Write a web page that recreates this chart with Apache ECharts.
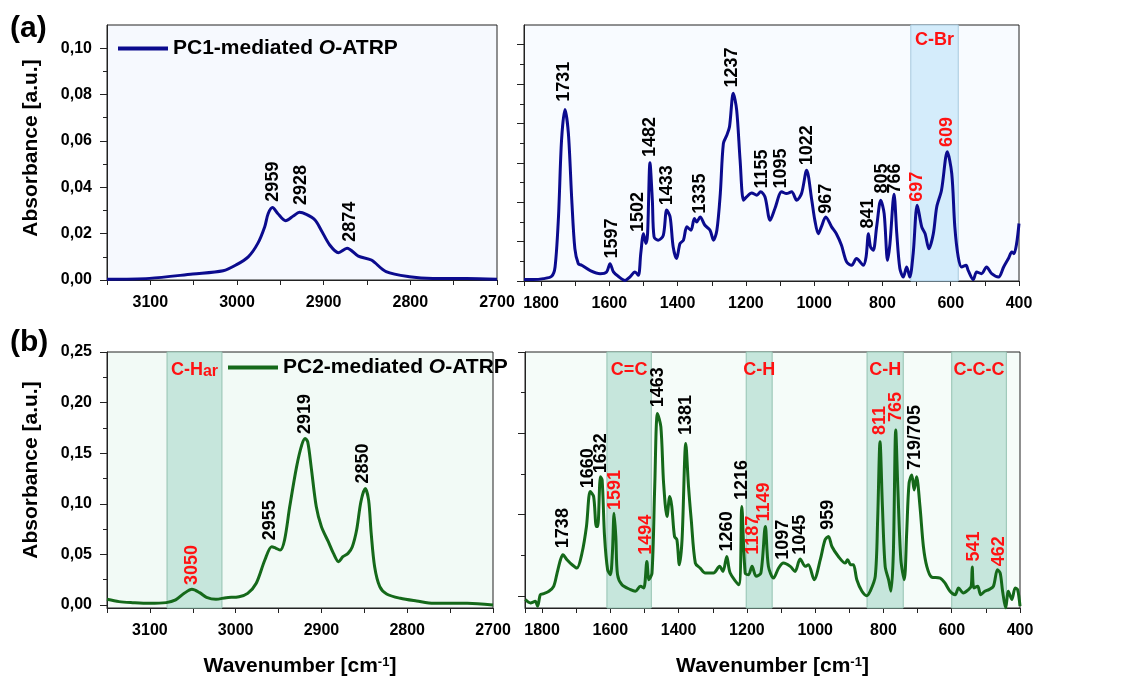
<!DOCTYPE html>
<html>
<head>
<meta charset="utf-8">
<script src="https://cdn.jsdelivr.net/npm/echarts@6/dist/echarts.min.js"></script>
<style>
  html, body { margin: 0; padding: 0; background: #fff; }
  #chart { width: 1132px; height: 684px; }
</style>
</head>
<body>
<div id="chart"></div>
<script>
// (a) PC1 spectrum, C-H stretching region [wavenumber, absorbance]
const pc1High = [[3150,0.0003],[3101,0.0007],[3051,0.0026],[3016,0.004],[3001,0.0065],[2987,0.010],[2976,0.0158],
  [2968,0.023],[2964,0.0287],[2959,0.0313],[2953,0.0287],[2944,0.0256],[2935,0.0276],[2928,0.0292],[2920,0.0283],
  [2910,0.0259],[2903,0.0216],[2893,0.0151],[2883,0.0118],[2873,0.0137],[2860,0.0103],[2845,0.0086],[2828,0.0036],
  [2801,0.0014],[2774,0.0007],[2735,0.0007],[2700,0.0003]];

// (a) PC1 spectrum, fingerprint region
const pc1Low = [[1850,0.0007],[1823,0.0007],[1793,0.0012],[1769,0.0024],[1759,0.0071],[1749,0.0325],[1740,0.0715],
  [1730,0.0871],[1720,0.075],[1710,0.041],[1701,0.0164],[1691,0.0088],[1681,0.008],[1657,0.0054],[1627,0.0037],
  [1608,0.0046],[1598,0.0088],[1588,0.0046],[1574,0.0024],[1554,0.0003],[1540,0.002],[1525,0.0046],[1515,0.0029],
  [1508,0.0139],[1500,0.024],[1493,0.019],[1488,0.024],[1481,0.060],[1474,0.041],[1469,0.0224],[1457,0.0207],
  [1442,0.0232],[1432,0.036],[1422,0.0325],[1413,0.0173],[1403,0.0114],[1393,0.019],[1383,0.0207],[1373,0.0275],
  [1361,0.0258],[1351,0.0317],[1344,0.030],[1334,0.0325],[1320,0.0283],[1305,0.0258],[1295,0.0207],[1285,0.0258],
  [1275,0.0444],[1266,0.0698],[1256,0.074],[1248,0.0783],[1237,0.0953],[1227,0.0868],[1217,0.0614],[1207,0.041],
  [1198,0.0427],[1183,0.0447],[1168,0.0436],[1157,0.0453],[1144,0.0427],[1129,0.0308],[1115,0.0368],[1095,0.0453],
  [1081,0.0444],[1066,0.0453],[1051,0.041],[1037,0.0444],[1022,0.0563],[1007,0.041],[998,0.0308],[988,0.024],
  [979,0.0275],[966,0.0325],[949,0.0275],[935,0.024],[920,0.0181],[905,0.0097],[890,0.008],[876,0.0114],[856,0.008],
  [848,0.0122],[841,0.024],[835,0.0173],[827,0.0156],[817,0.0275],[805,0.041],[795,0.0342],[785,0.0105],[778,0.019],
  [766,0.0441],[758,0.024],[749,0.0063],[739,0.002],[729,0.0071],[720,0.002],[710,0.0139],[698,0.0385],[685,0.0275],
  [675,0.024],[664,0.0164],[651,0.024],[641,0.0376],[627,0.0461],[610,0.0656],[597,0.0546],[588,0.0275],[578,0.0122],
  [568,0.0071],[555,0.008],[549,0.0054],[534,0.0007],[524,0.0046],[510,0.0037],[495,0.0071],[480,0.0037],[460,0.002],
  [445,0.0071],[431,0.0114],[421,0.0147],[415,0.0139],[407,0.019],[400,0.0292]];

// (b) PC2 spectrum, C-H stretching region
const pc2High = [[3150,0.0056],[3136,0.0033],[3120,0.0023],[3101,0.0016],[3081,0.0023],[3070,0.005],[3060,0.0115],
  [3051,0.0155],[3042,0.0122],[3034,0.0076],[3023,0.0056],[3011,0.0072],[2996,0.0082],[2986,0.0115],[2976,0.0214],
  [2966,0.0444],[2958,0.0576],[2953,0.056],[2948,0.0543],[2943,0.0642],[2937,0.097],[2929,0.1365],[2923,0.158],
  [2919,0.1645],[2916,0.1612],[2912,0.1365],[2906,0.097],[2900,0.0773],[2892,0.0625],[2886,0.051],[2880,0.0428],
  [2875,0.0477],[2869,0.051],[2864,0.0576],[2859,0.074],[2854,0.102],[2849,0.115],[2845,0.1036],[2842,0.0707],
  [2838,0.0378],[2832,0.0181],[2824,0.0109],[2808,0.0066],[2789,0.0039],[2769,0.0016],[2730,0.0016],[2700,0.0]];

// (b) PC2 spectrum, fingerprint region
const pc2Low = [[1849,-0.0022],[1834,-0.0043],[1820,-0.0033],[1813,-0.0063],[1805,0.0008],[1795,0.0014],[1780,0.0029],
  [1766,0.0059],[1756,0.0141],[1746,0.0223],[1739,0.0253],[1727,0.0223],[1712,0.0192],[1698,0.0172],[1683,0.0264],
  [1670,0.0427],[1659,0.0642],[1649,0.0611],[1641,0.0427],[1637,0.0427],[1629,0.0733],[1624,0.0713],[1617,0.0366],
  [1608,0.0161],[1600,0.0131],[1594,0.0264],[1589,0.0509],[1584,0.0366],[1579,0.0131],[1566,0.0069],[1541,0.0039],
  [1527,0.0029],[1512,0.0059],[1502,0.0049],[1493,0.0212],[1487,0.010],[1478,0.0141],[1470,0.0672],[1462,0.1122],
  [1452,0.104],[1444,0.0693],[1434,0.0488],[1426,0.0611],[1420,0.055],[1412,0.0366],[1405,0.0345],[1398,0.0192],
  [1390,0.0345],[1379,0.0938],[1371,0.0672],[1363,0.0468],[1351,0.0202],[1337,0.0172],[1322,0.0141],[1298,0.0141],
  [1280,0.0182],[1270,0.0151],[1259,0.0243],[1249,0.0141],[1224,0.0069],[1215,0.055],[1205,0.0141],[1195,0.0131],
  [1185,0.0182],[1173,0.0121],[1159,0.0141],[1146,0.0427],[1137,0.0182],[1122,0.011],[1107,0.0172],[1093,0.0202],
  [1073,0.0182],[1059,0.0151],[1044,0.0227],[1029,0.0182],[1020,0.0192],[1003,0.010],[985,0.0223],[971,0.0345],
  [961,0.0366],[951,0.0304],[932,0.0243],[912,0.0202],[905,0.0223],[896,0.0192],[888,0.0192],[878,0.010],[863,0.0029],
  [849,0.0002],[839,0.0029],[824,0.0121],[817,0.0468],[810,0.0948],[803,0.055],[795,0.0182],[785,0.010],[778,0.0029],
  [771,0.0264],[764,0.102],[758,0.0672],[749,0.0223],[739,0.010],[732,0.0386],[725,0.0693],[717,0.0744],[710,0.0652],
  [703,0.0733],[693,0.055],[683,0.0304],[673,0.0182],[659,0.0116],[634,0.011],[620,0.008],[605,0.0029],[590,0.0008],
  [580,0.0049],[566,0.0018],[551,0.0039],[543,0.0059],[540,0.0178],[535,0.0049],[524,0.0059],[515,0.0008],[503,0.0029],
  [491,0.0039],[478,0.0059],[466,0.0161],[458,0.0141],[451,0.0029],[442,-0.0074],[434,0.0029],[424,-0.0022],
  [414,0.0049],[407,0.0039],[400,-0.0063]];

// peak annotations [wavenumber, absorbance at label foot, text]
const pc1HighPeaks = [[2959,0.0338,'2959'],[2926,0.0323,'2928'],[2870,0.0165,'2874']];
const pc1LowPeaks = [[1732,0.091,'1731'],[1593,0.0114,'1597'],[1515,0.0249,'1502'],[1481,0.063,'1482'],
  [1430,0.0385,'1433'],[1333,0.0342,'1335'],[1242,0.0983,'1237'],[1152,0.047,'1155'],[1098,0.047,'1095'],
  [1022,0.0588,'1022'],[965,0.0342,'967'],[841,0.0266,'841'],[802,0.0444,'805'],[763,0.0444,'766']];
const pc1LowRedPeaks = [[698,0.0402,'697'],[610,0.068,'609']];
const pc2HighPeaks = [[2960,0.064,'2955'],[2919,0.169,'2919'],[2851,0.12,'2850']];
const pc2HighRedPeaks = [[3051,0.0197,'3050']];
const pc2LowPeaks = [[1739,0.0294,'1738'],[1666,0.0662,'1660'],[1627,0.0754,'1632'],[1461,0.116,'1463'],
  [1379,0.0989,'1381'],[1259,0.0274,'1260'],[1215,0.059,'1216'],[1095,0.0223,'1097'],[1044,0.0253,'1045'],
  [961,0.0407,'959'],[707,0.0774,'719/705']];
const pc2LowRedPeaks = [[1587,0.0529,'1591'],[1495,0.0253,'1494'],[1183,0.0253,'1187'],[1149,0.0458,'1149'],
  [810,0.0989,'811'],[764,0.107,'765'],[535,0.0212,'541'],[461,0.0182,'462']];

// shaded bands [from, to, text]
const pc1LowBands = [[717,578,'C-Br']];
const pc2HighBands = [[3080,3016,'C-Har']];
const pc2LowBands = [[1610,1480,'C=C'],[1202,1126,'C-H'],[848,742,'C-H'],[600,440,'C-C-C']];

// y ticks
const yMajorA = [0,0.02,0.04,0.06,0.08,0.10];
const yMinorA = [0.01,0.03,0.05,0.07,0.09];
const yMajorA2 = [0,0.02,0.04,0.06,0.08,0.10,0.12];
const yMinorA2 = [0.01,0.03,0.05,0.07,0.09,0.11];
const yMajorB = [0,0.05,0.10,0.15,0.20,0.25];
const yMinorB = [0.025,0.075,0.125,0.175,0.225];
const yMajorB2 = [0,0.05,0.10,0.15];
const yMinorB2 = [0.025,0.075,0.125];

const F = 'Arial, "Liberation Sans", Helvetica, sans-serif';
const ink = '#000', frame = '#222';
const blue = '#0b0b8e', green = '#15691a', red = '#ff1212';
const legendName1 = 'PC1-mediated O-ATRP';
const legendName2 = 'PC2-mediated O-ATRP';

const chart = echarts.init(document.getElementById('chart'));

const grids = [
  { left: 107, top: 25, width: 390, height: 255, backgroundColor: '#f6f9fe' },
  { left: 524, top: 25, width: 495, height: 256, backgroundColor: '#f8fbff' },
  { left: 107, top: 352, width: 386, height: 256, backgroundColor: '#f2faf6' },
  { left: 525, top: 352, width: 495, height: 256, backgroundColor: '#f5fcf9' }
].map(g => Object.assign({ show: true, borderColor: frame, borderWidth: 1, outerBoundsMode: 'none' }, g));

const nameStyle = {
  fontSize: 21, fontWeight: 'bold', color: ink, fontFamily: F,
  rich: { s: { fontSize: 13, fontWeight: 'bold', color: ink, fontFamily: F, verticalAlign: 'top', lineHeight: 13 } }
};

function xAxis(gi, min, max, step, labelStep, withName) {
  return {
    type: 'value', gridIndex: gi, min, max, interval: step, inverse: true,
    axisLine: { show: true, onZero: false, lineStyle: { color: frame, width: 1 } },
    axisTick: { show: true, length: 5, lineStyle: { color: frame } },
    axisLabel: {
      margin: 15, color: ink, fontSize: 16, fontWeight: 'bold', fontFamily: F,
      formatter: v => (v % labelStep === 0 && v !== max) ? String(v) : ''
    },
    splitLine: { show: false },
    name: withName ? 'Wavenumber [cm{s|-1}]' : '',
    nameLocation: 'middle', nameGap: 48, nameTextStyle: nameStyle
  };
}

function yAxes(gi, min, max, major, minor, labels) {
  return [{
    type: 'value', gridIndex: gi, min, max, position: 'left',
    axisLine: { show: true, onZero: false, lineStyle: { color: frame, width: 1 } },
    axisTick: { show: true, length: 7, customValues: major, lineStyle: { color: frame } },
    axisLabel: {
      show: labels, customValues: major, margin: 15, color: ink, fontSize: 16, fontWeight: 'bold', fontFamily: F,
      formatter: v => v.toFixed(2).replace('.', ',')
    },
    splitLine: { show: false }
  }, {
    type: 'value', gridIndex: gi, min, max, position: 'left',
    axisLine: { show: false },
    axisTick: { show: true, length: 4, customValues: minor, lineStyle: { color: frame } },
    axisLabel: { show: false },
    splitLine: { show: false }
  }];
}

function spectrum(name, data, idx, color, bands, bandStyle, labelDist) {
  const s = {
    type: 'line', name, data, xAxisIndex: idx, yAxisIndex: idx * 2,
    symbol: 'none', showSymbol: false, smooth: 0.3, z: 3,
    lineStyle: { color, width: 3 }, itemStyle: { color }
  };
  if (bands) {
    s.markArea = {
      silent: true,
      itemStyle: bandStyle,
      label: {
        show: true, position: 'insideTop', distance: labelDist, color: red, fontSize: 18, fontWeight: 'bold', fontFamily: F,
        formatter: p => p.name === 'C-Har' ? '{a|C-H}{b|ar}' : p.name,
        rich: {
          a: { fontSize: 18, fontWeight: 'bold', color: red, fontFamily: F, lineHeight: 18, verticalAlign: 'top' },
          b: { fontSize: 16, fontWeight: 'bold', color: red, fontFamily: F, lineHeight: 16, verticalAlign: 'bottom', padding: [13, 0, 0, 0] }
        }
      },
      data: bands.map(b => [{ xAxis: b[0], name: b[2] }, { xAxis: b[1] }])
    };
  }
  return s;
}

function peakLabels(peaks, idx, color) {
  return {
    type: 'scatter', xAxisIndex: idx, yAxisIndex: idx * 2, silent: true, z: 5,
    symbolSize: 0, itemStyle: { color, opacity: 1 },
    data: peaks.map(p => ({ value: [p[0], p[1]], name: p[2] })),
    label: {
      show: true, formatter: p => p.name, position: 'top', distance: 0, rotate: 90, opacity: 1,
      align: 'left', verticalAlign: 'middle', color, fontSize: 18, fontWeight: 'bold', fontFamily: F
    }
  };
}

const blueBand = { color: '#d4ecfb', borderColor: '#a6c9de', borderWidth: 1 };
const greenBand = { color: '#c6e6dc', borderColor: '#94c2b1', borderWidth: 1 };

function legend(left, top, name) {
  return {
    left, top, data: [name], selectedMode: false, icon: 'rect', itemWidth: 50, itemHeight: 4,
    padding: 0, itemGap: 0,
    formatter: n => n.replace('O-ATRP', '{i|O}-ATRP'),
    textStyle: {
      fontSize: 21, fontWeight: 'bold', color: ink, fontFamily: F,
      rich: { i: { fontSize: 21, fontWeight: 'bold', fontStyle: 'italic', color: ink, fontFamily: F } }
    }
  };
}

const yTitle = (y) => ({
  type: 'text', x: 31, y, rotation: Math.PI / 2,
  style: { text: 'Absorbance [a.u.]', fontSize: 21, fontWeight: 'bold', fontFamily: F, fill: ink, align: 'center', verticalAlign: 'middle' }
});

const option = {
  animation: false,
  backgroundColor: '#fff',
  grid: grids,
  legend: [legend(118, 38, legendName1), legend(228, 357, legendName2)],
  xAxis: [
    xAxis(0, 2700, 3150, 50, 100, false),
    xAxis(1, 400, 1850, 100, 200, false),
    xAxis(2, 2700, 3150, 50, 100, true),
    xAxis(3, 400, 1850, 100, 200, true)
  ],
  yAxis: [
    ...yAxes(0, 0, 0.11, yMajorA, yMinorA, true),
    ...yAxes(1, 0, 0.13, yMajorA2, yMinorA2, false),
    ...yAxes(2, -0.003, 0.25, yMajorB, yMinorB, true),
    ...yAxes(3, -0.0074, 0.15, yMajorB2, yMinorB2, false)
  ],
  graphic: [
    { type: 'text', left: 10, top: 14, style: { text: '(a)', fontSize: 30, fontWeight: 'bold', fontFamily: F, fill: ink } },
    { type: 'text', left: 10, top: 328, style: { text: '(b)', fontSize: 30, fontWeight: 'bold', fontFamily: F, fill: ink } },
    yTitle(148),
    yTitle(470)
  ],
  series: [
    spectrum(legendName1, pc1High, 0, blue),
    spectrum(legendName1, pc1Low, 1, blue, pc1LowBands, blueBand, 7),
    spectrum(legendName2, pc2High, 2, green, pc2HighBands, greenBand, 10),
    spectrum(legendName2, pc2Low, 3, green, pc2LowBands, greenBand, 10),
    peakLabels(pc1HighPeaks, 0, ink),
    peakLabels(pc1LowPeaks, 1, ink),
    peakLabels(pc1LowRedPeaks, 1, red),
    peakLabels(pc2HighPeaks, 2, ink),
    peakLabels(pc2HighRedPeaks, 2, red),
    peakLabels(pc2LowPeaks, 3, ink),
    peakLabels(pc2LowRedPeaks, 3, red)
  ]
};

chart.setOption(option);
</script>
</body>
</html>
